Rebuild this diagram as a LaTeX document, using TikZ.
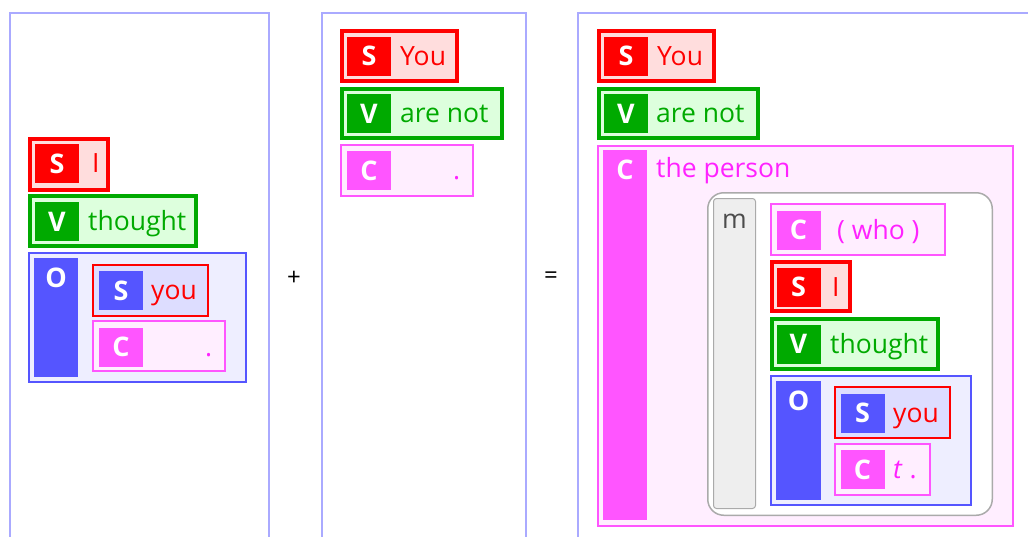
\documentclass[tikz,border=0pt]{standalone}
\usepackage{fontspec}
\setmainfont{Open Sans}
\definecolor{panelc}{HTML}{AAAAFF}
\definecolor{sred}{HTML}{FF0000}
\definecolor{sredl}{HTML}{FFDDDD}
\definecolor{vgreen}{HTML}{00AA00}
\definecolor{vgreenl}{HTML}{DDFFDD}
\definecolor{cmag}{HTML}{FF55FF}
\definecolor{cmagl}{HTML}{FFEEFF}
\definecolor{cmagt}{HTML}{FF22FF}
\definecolor{oblue}{HTML}{5555FF}
\definecolor{obluel}{HTML}{EEEEFF}
\definecolor{obluem}{HTML}{DDDDFF}
\definecolor{mgray}{HTML}{AAAAAA}
\definecolor{mgrayl}{HTML}{EEEEEE}
\begin{document}
\begin{tikzpicture}[x=1pt, y=-1pt, line join=miter,
	font=\fontsize{26.5}{30}\selectfont,
	panel/.style={draw=panelc, line width=2pt},
	sbox/.style={draw=sred, fill=sredl, line width=4pt},
	vbox/.style={draw=vgreen, fill=vgreenl, line width=4pt},
	cbox/.style={draw=cmag, fill=cmagl, line width=2pt},
	obox/.style={draw=oblue, fill=obluel, line width=2pt},
	lab/.style={minimum width=44pt, minimum height=39pt, inner sep=0pt, text height=19.3pt,
		text depth=0pt, text=white, font=\fontsize{27}{30}\selectfont\bfseries},
	tag/.style={inner sep=0pt, text height=19.3pt, text depth=0pt, text=white,
		font=\fontsize{27}{30}\selectfont\bfseries},
	word/.style={anchor=base west, inner sep=0pt}]
	\useasboundingbox (0,0) rectangle (1028,536);
	% panels
	\draw[panel] (10,545) -- (10,13) -- (269,13) -- (269,545);
	\draw[panel] (322,545) -- (322,13) -- (526,13) -- (526,545);
	\draw[panel] (578,545) -- (578,13) -- (1040,13);
	\node (plus) at (294,278) {\fontsize{24}{26}\selectfont +};
	\node (eq) at (551,278) {\fontsize{24}{26}\selectfont =};
	
	% first panel: I thought you ... .
	\draw[sbox] (30,139) rectangle (108,190);
	\node[lab, fill=sred] (s1) at (57,163.5) {S};
	\node[word, text=sred] (s1w) at (92,172.5) {I};
	\draw[vbox] (30,196) rectangle (196,246);
	\node[lab, fill=vgreen] (v1) at (57,221.5) {V};
	\node[word, text=vgreen] (v1w) at (88,230.5) {thought};
	\draw[obox] (29,253) rectangle (246,382);
	\fill[oblue] (34,258) rectangle (78,377);
	\node[tag] (o1) at (56,278) {O};
	\draw[draw=sred, fill=obluem, line width=2pt] (93,265) rectangle (208,316);
	\node[lab, fill=oblue] (os1) at (121,290.5) {S};
	\node[word, text=sred] (os1w) at (151,299.5) {you};
	\draw[cbox] (93,321) rectangle (225,371);
	\node[lab, fill=cmag] (oc1) at (121,347) {C};
	\node[word, text=cmagt] (oc1w) at (205,356) {.};
	
	% second panel: You are not ... .
	\draw[sbox] (342,31) rectangle (457,81);
	\node[lab, fill=sred] (s2) at (369,56) {S};
	\node[word, text=sred] (s2w) at (400,65) {You};
	\draw[vbox] (342,89) rectangle (502,138);
	\node[lab, fill=vgreen] (v2) at (369,113.5) {V};
	\node[word, text=vgreen] (v2w) at (400,122.5) {are not};
	\draw[cbox] (341,145) rectangle (473,196);
	\node[lab, fill=cmag] (c2) at (369,170.5) {C};
	\node[word, text=cmagt] (c2w) at (453,179.5) {.};
	
	% third panel: the joined sentence
	\draw[sbox] (599,31) rectangle (714,81);
	\node[lab, fill=sred] (s3) at (626,56) {S};
	\node[word, text=sred] (s3w) at (657,65) {You};
	\draw[vbox] (599,89) rectangle (758,138);
	\node[lab, fill=vgreen] (v3) at (626,113.5) {V};
	\node[word, text=vgreen] (v3w) at (656,122.5) {are not};
	\draw[cbox] (598,146) rectangle (1013,526);
	\fill[cmag] (603,150) rectangle (647,520);
	\node[tag] (c3) at (625,170) {C};
	\node[word, text=cmagt] (c3w) at (656,177) {the person};
	% modifier clause
	\draw[draw=mgray, fill=white, line width=1.5pt, rounded corners=16pt] (707.75,192.75) rectangle (992.25,515.25);
	\draw[draw=mgray, fill=mgrayl, line width=1pt, rounded corners=3pt] (713.5,198.5) rectangle (755.5,508.5);
	\node[word, text=black!70] (m) at (722,228) {m};
	\draw[cbox] (771,204) rectangle (945,255);
	\node[lab, fill=cmag] (mc) at (798.5,230) {C};
	\node[word, text=cmagt] (mcw) at (837,239) {( who )};
	\draw[sbox] (772,262) rectangle (850,311);
	\node[lab, fill=sred] (ms) at (798.5,287) {S};
	\node[word, text=sred] (msw) at (832,296) {I};
	\draw[vbox] (772,319) rectangle (938,369);
	\node[lab, fill=vgreen] (mv) at (798.5,344) {V};
	\node[word, text=vgreen] (mvw) at (830,353) {thought};
	\draw[obox] (771,376) rectangle (971,505);
	\fill[oblue] (776,381) rectangle (821,500);
	\node[tag] (mo) at (798.5,401) {O};
	\draw[draw=sred, fill=obluem, line width=2pt] (835,387) rectangle (950,438);
	\node[lab, fill=oblue] (mos) at (862.5,413) {S};
	\node[word, text=sred] (mosw) at (893,422) {you};
	\draw[cbox] (835,444) rectangle (930,495);
	\node[lab, fill=cmag] (moc) at (862.5,469.5) {C};
	\node[word, text=cmagt] (mocw) at (893,478.5) {\textit{t} .};
\end{tikzpicture}
\end{document}
